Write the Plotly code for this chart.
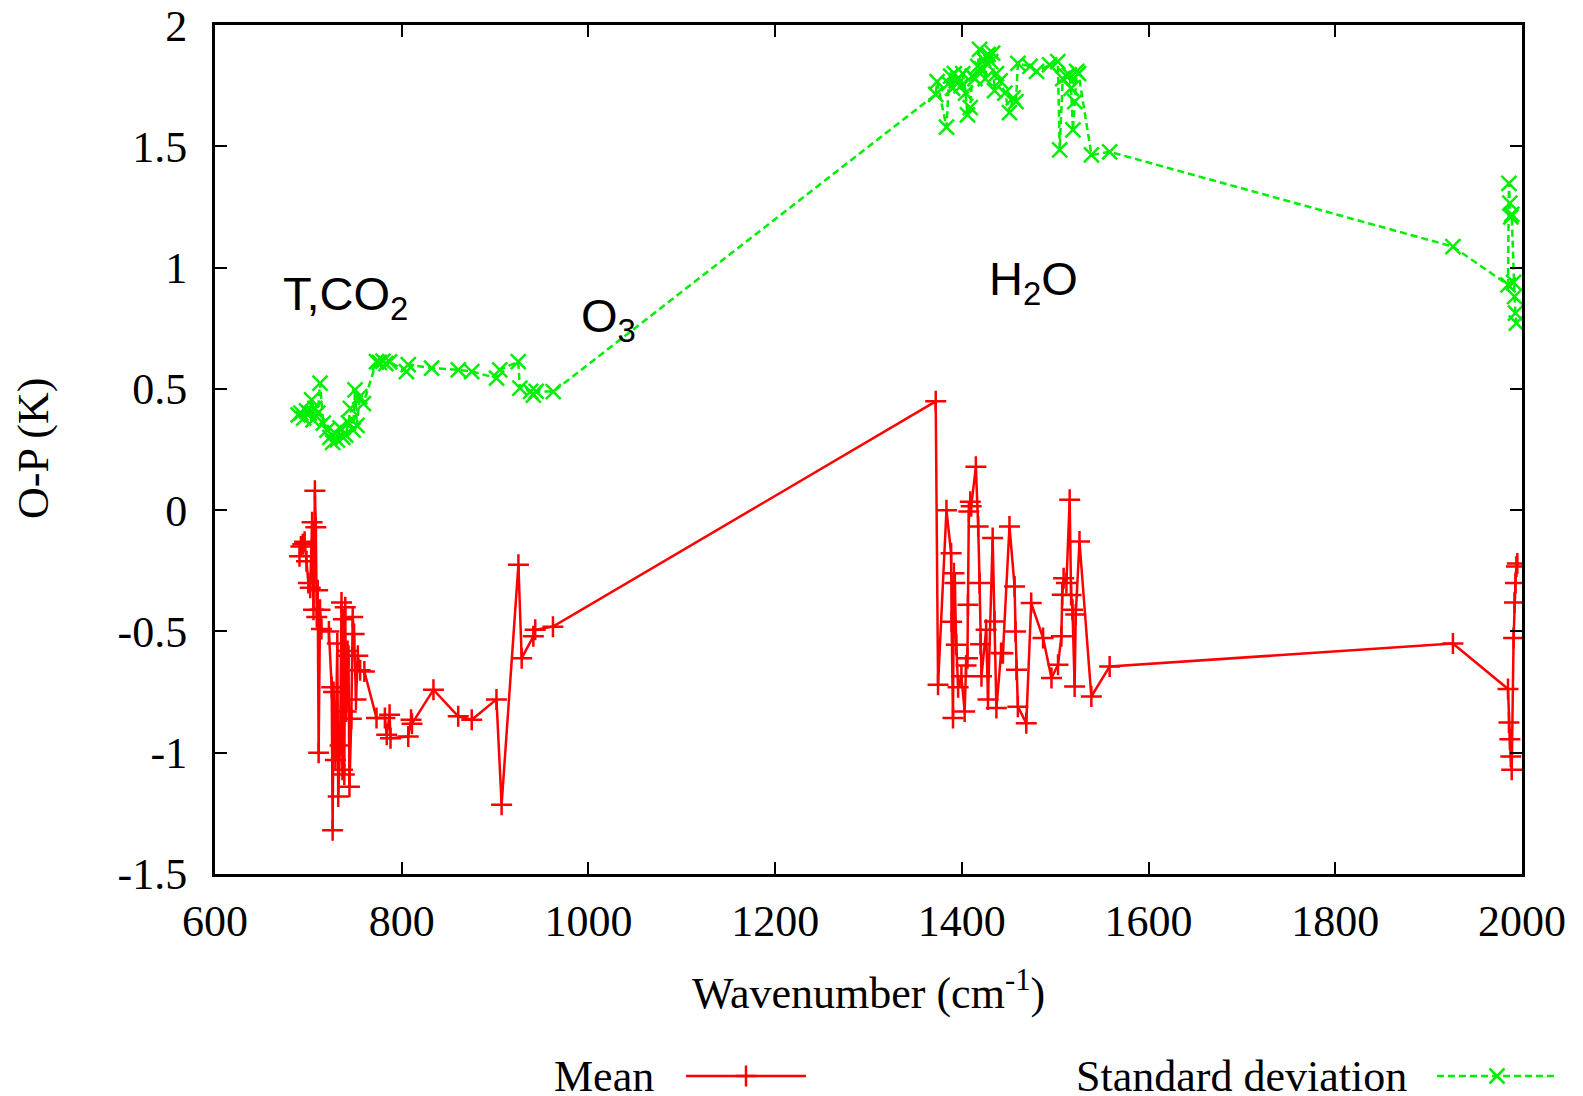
import plotly.graph_objects as go

# ---------------- data ----------------
mean_wn = [690.5, 692, 694, 696, 698, 700, 702, 704, 705.5, 707, 708, 709, 710, 711, 712.5, 714,
           722, 725, 726, 727, 729, 731, 732, 734, 735.5, 736.5, 737.5, 738.5, 739.5, 740.5, 742, 743,
           744, 746, 747.5, 749, 751, 753, 755.5, 760, 773, 782, 784, 787, 788, 807, 810, 811, 834,
           860.5, 875, 901.5, 907, 925, 928.5, 941, 943, 962,
           1372, 1374.5, 1383.5, 1388.5, 1389, 1390.5, 1391.5, 1392.5, 1394, 1396, 1399.5, 1403,
           1404.5, 1406, 1406.5, 1407.5, 1409, 1410, 1415, 1417.5, 1419, 1420, 1421, 1426, 1428,
           1433, 1435, 1437, 1442, 1444, 1451, 1456.5, 1457.5, 1458.5, 1460, 1469, 1474.3, 1487,
           1496, 1503, 1506.6, 1507.5, 1509, 1512, 1515.5, 1517, 1518.5, 1520.8, 1522, 1526,
           1538.7, 1558.3, 1926, 1985, 1986, 1987, 1988, 1989, 1991, 1992, 1993, 1994, 1995]
mean_val = [-0.19, -0.15, -0.14, -0.13, -0.21, -0.30, -0.32, -0.05, -0.41, 0.08, -0.07, -0.44, -0.33,
            -1.00, -0.41, -0.49, -0.50, -0.73, -1.32, -0.75, -1.03, -0.55, -1.18, -0.97, -0.38, -1.07,
            -0.45, -1.09, -0.40, -0.83, -0.58, -0.60, -1.14, -0.86, -0.44, -0.51, -0.78, -0.60, -0.66,
            -0.665, -0.857, -0.857, -0.926, -0.843, -0.94, -0.933, -0.864, -0.88, -0.74, -0.85, -0.864,
            -0.78, -1.214, -0.225, -0.61, -0.52, -0.493, -0.48,
            0.449, -0.72, 0.0, -0.177, -0.46, -0.857, -0.26, -0.30, -0.555, -0.73, -0.685, -0.83,
            -0.64, -0.61, -0.39, -0.005, 0.035, 0.016, 0.179, -0.067, -0.30, -0.553, -0.685, -0.493,
            -0.78, -0.115, -0.459, -0.816, -0.589, -0.59, -0.067, -0.314, -0.50, -0.658, -0.81,
            -0.878, -0.383, -0.527, -0.692, -0.637, -0.52, -0.349, -0.28, -0.30, 0.043, -0.35, -0.41,
            -0.727, -0.43, -0.129, -0.768, -0.644, -0.55, -0.737, -0.875, -0.944, -1.015, -1.07,
            -0.527, -0.38, -0.30, -0.232, -0.22]

std_wn = [689, 692, 695, 698, 701, 703.5, 705, 707, 710, 712.5, 716, 720, 723, 726, 728, 731, 734, 737,
          740, 743, 745, 748, 750, 752, 755, 759, 773, 776, 780, 783, 787, 805, 807, 832, 860.6, 875,
          901.6, 905, 924.8, 926.6, 938, 941, 944, 962.3,
          1372, 1373.5, 1383.5, 1386, 1388, 1390, 1392, 1394, 1396, 1399, 1401, 1404, 1406, 1409,
          1411, 1414, 1417, 1419, 1421, 1423, 1425, 1428, 1431, 1433, 1435, 1437, 1441, 1446, 1451,
          1455, 1458, 1460, 1473, 1480, 1494, 1502.8, 1504.8, 1508, 1512, 1515, 1517, 1519, 1521,
          1523, 1525, 1538.8, 1558.3, 1926, 1985, 1986, 1987, 1988, 1989, 1991, 1992, 1993, 1994]
std_val = [0.393, 0.40, 0.38, 0.41, 0.40, 0.455, 0.373, 0.42, 0.40, 0.524, 0.359, 0.33, 0.30, 0.28,
           0.32, 0.29, 0.34, 0.30, 0.31, 0.36, 0.42, 0.33, 0.496, 0.35, 0.468, 0.44, 0.613, 0.61,
           0.615, 0.605, 0.612, 0.572, 0.60, 0.586, 0.579, 0.572, 0.545, 0.579, 0.613, 0.503, 0.49,
           0.475, 0.49, 0.489,
           1.715, 1.767, 1.58, 1.76, 1.79, 1.74, 1.80, 1.77, 1.78, 1.75, 1.80, 1.72, 1.63, 1.66,
           1.79, 1.78, 1.83, 1.90, 1.82, 1.86, 1.78, 1.88, 1.85, 1.885, 1.73, 1.80, 1.77, 1.72,
           1.64, 1.70, 1.685, 1.843, 1.83, 1.81, 1.836, 1.85, 1.486, 1.78, 1.79, 1.795, 1.74, 1.568,
           1.685, 1.81, 1.80, 1.465, 1.478, 1.087, 0.929, 1.348, 1.266, 1.21, 1.22, 0.94, 0.881,
           0.813, 0.772]

x_ticks = [600, 800, 1000, 1200, 1400, 1600, 1800, 2000]
y_ticks = [-1.5, -1, -0.5, 0, 0.5, 1, 1.5, 2]
y_tick_labels = ["-1.5", "-1", "-0.5", "0", "0.5", "1", "1.5", "2"]

labels = [("T,CO<sub>2</sub>", 740, 0.88), ("O<sub>3</sub>", 1022, 0.79), ("H<sub>2</sub>O", 1477, 0.94)]

RED = "#ff0000"
GREEN = "#00ee00"
W, H = 1583, 1096
SERIF = "Liberation Serif, Times New Roman, serif"
SANS = "Liberation Sans, Arial, sans-serif"

fig = go.Figure()
fig.add_trace(go.Scatter(x=mean_wn, y=mean_val, mode="lines+markers", name="Mean",
                         line=dict(color=RED, width=2.5),
                         marker=dict(symbol="cross-thin", size=15, line=dict(color=RED, width=2.5))))
fig.add_trace(go.Scatter(x=std_wn, y=std_val, mode="lines+markers", name="Standard deviation",
                         line=dict(color=GREEN, width=2.5, dash="7px,4px"),
                         marker=dict(symbol="x-thin", size=15, line=dict(color=GREEN, width=2.5))))

# legend samples on a hidden full-page pixel axis
leg_y = 1076
fig.add_trace(go.Scatter(x=[686, 806], y=[leg_y, leg_y], mode="lines", xaxis="x2", yaxis="y2",
                         line=dict(color=RED, width=2.5), hoverinfo="skip"))
fig.add_trace(go.Scatter(x=[746], y=[leg_y], mode="markers", xaxis="x2", yaxis="y2",
                         marker=dict(symbol="cross-thin", size=15, line=dict(color=RED, width=2.5)),
                         hoverinfo="skip"))
fig.add_trace(go.Scatter(x=[1437, 1558], y=[leg_y, leg_y], mode="lines", xaxis="x2", yaxis="y2",
                         line=dict(color=GREEN, width=2.5, dash="7px,4px"), hoverinfo="skip"))
fig.add_trace(go.Scatter(x=[1497], y=[leg_y], mode="markers", xaxis="x2", yaxis="y2",
                         marker=dict(symbol="x-thin", size=15, line=dict(color=GREEN, width=2.5)),
                         hoverinfo="skip"))

axis_common = dict(showline=True, linecolor="black", linewidth=3, mirror="ticks",
                   ticks="inside", ticklen=12, tickwidth=2, tickcolor="black",
                   showgrid=False, zeroline=False,
                   tickfont=dict(family=SERIF, size=44, color="black"))

fig.update_layout(
    width=W, height=H, margin=dict(l=0, r=0, t=0, b=0),
    paper_bgcolor="white", plot_bgcolor="rgba(0,0,0,0)", showlegend=False,
    xaxis=dict(domain=[215 / W, 1522 / W], range=[600, 2000], tickvals=x_ticks,
               ticktext=[str(v) for v in x_ticks], ticklabelstandoff=6, automargin=False,
               **axis_common),
    yaxis=dict(domain=[1 - 874 / H, 1 - 25.2 / H], range=[-1.5, 2], tickvals=y_ticks,
               ticktext=y_tick_labels, ticklabelstandoff=16, automargin=False, **axis_common),
    xaxis2=dict(domain=[0, 1], range=[0, W], visible=False, anchor="y2", fixedrange=True),
    yaxis2=dict(domain=[0, 1], range=[H, 0], visible=False, anchor="x2", fixedrange=True),
)

for txt, xv, yv in labels:
    fig.add_annotation(x=xv, y=yv, xref="x", yref="y", text=txt, showarrow=False,
                       xanchor="center", yanchor="middle",
                       font=dict(family=SANS, size=47, color="black"))

fig.add_annotation(x=868 / W, y=1 - 990 / H, xref="paper", yref="paper",
                   text="Wavenumber (cm<sup>-1</sup>)", showarrow=False,
                   xanchor="center", yanchor="middle",
                   font=dict(family=SERIF, size=44, color="black"))
fig.add_annotation(x=33 / W, y=1 - 449 / H, xref="paper", yref="paper", text="O-P (K)",
                   textangle=-90, showarrow=False, xanchor="center", yanchor="middle",
                   font=dict(family=SERIF, size=44, color="black"))
fig.add_annotation(x=656 / W, y=1 - leg_y / H, xref="paper", yref="paper", text="Mean",
                   xanchor="right", yanchor="middle", showarrow=False,
                   font=dict(family=SERIF, size=44, color="black"))
fig.add_annotation(x=1409 / W, y=1 - leg_y / H, xref="paper", yref="paper",
                   text="Standard deviation", xanchor="right", yanchor="middle", showarrow=False,
                   font=dict(family=SERIF, size=44, color="black"))

fig.write_html("out.html")
